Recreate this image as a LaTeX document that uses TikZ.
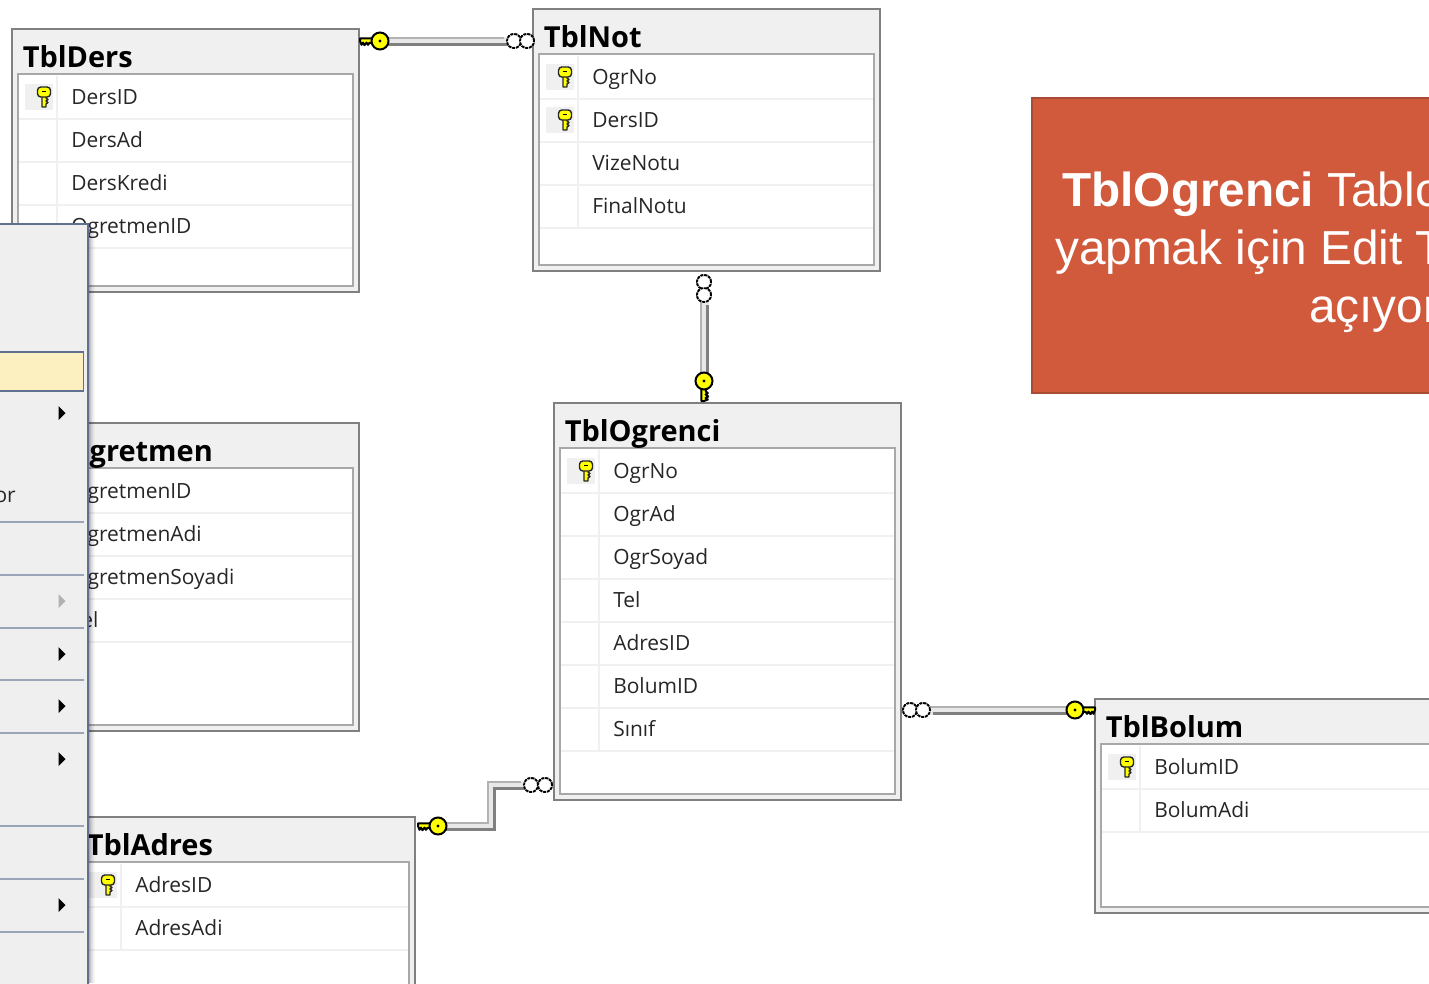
\documentclass[tikz,border=0pt]{standalone}
\usepackage{fontspec}
\setmainfont{Open Sans}
\newfontfamily\calloutfont{Liberation Sans}
\usetikzlibrary{calc}
\definecolor{frameA}{HTML}{808080}
\definecolor{frameB}{HTML}{A8A8A8}
\definecolor{headbg}{HTML}{F0F0F0}
\definecolor{gridc}{HTML}{F0F0F0}
\definecolor{keyy}{HTML}{FFFF00}
\definecolor{menubg}{HTML}{EFEFEF}
\definecolor{menuedge}{HTML}{5F7090}
\definecolor{menusep}{HTML}{9AA5B8}
\definecolor{menuhi}{HTML}{FDF0C0}
\definecolor{boxred}{HTML}{D15A3C}
\definecolor{boxedge}{HTML}{A84C33}
\def\px{0.75pt}
\tikzset{
  tblouter/.style={draw=frameA,fill=headbg,line width=2*\px,inner sep=0pt,outer sep=0pt,rectangle},
  tblinner/.style={draw=frameB,fill=white,line width=2*\px,inner sep=0pt,outer sep=0pt,rectangle},
  gridline/.style={draw=gridc,line width=1.6*\px},
  tbltitle/.style={anchor=base west,inner sep=0pt,font=\fontsize{21.7}{26}\selectfont\bfseries,text=black},
  rowtext/.style={anchor=base west,inner sep=0pt,font=\fontsize{15.7}{18}\selectfont,text=black!85},
  keyoutline/.style={draw=black,fill=keyy,line width=2*\px},
  smallkeyline/.style={draw=black!85,fill=keyy,line width=1.4*\px,line join=round},
  ringc/.style={circle,draw=black,dash pattern=on 2.2pt off 0.7pt,fill=white,line width=1.8*\px,minimum size=14*\px,inner sep=0pt,outer sep=0pt},
  connmid/.style={draw=black!9,line width=9*\px},
  connlo/.style={draw=frameA,line width=2.6*\px,transform canvas={shift={(3.2,3.2)}}},
  connhi/.style={draw=black!30,line width=2.6*\px,transform canvas={shift={(-3.2,-3.2)}}},
  menuarrow/.style={fill=black,draw=none},
  keyshape/.pic={
    \path[keyoutline,line join=round] (5,-2.6) -- (20,-2.6) -- (20,0) -- (18.5,3.8) -- (17,1.6) -- (15.5,4.2) -- (13.5,1.6) -- (12,3.8) -- (10.5,1.8) -- (5,1.8) -- cycle;
    \path[keyoutline] (0,0) circle (8.5);
    \fill[black] (0,0) circle (1.6);
  },
  smallkey/.pic={
    \path[smallkeyline] (-2,-1) -- (2,-1) -- (2,1) -- (4,2.5) -- (2,4) -- (4,5.5) -- (2,7) -- (2,10) -- (-2,10) -- cycle;
    \path[smallkeyline,rounded corners=2.5] (-6.5,-10) rectangle (6.5,0);
    \fill[black] (-2,-6.2) rectangle (2,-4.6);
  },
}
% id, left, top, right, bottom, title, key rows, rows
\newcommand{\dbtable}[8]{
  \pgfmathsetmacro\tw{#4-#2}
  \pgfmathsetmacro\th{#5-#3}
  \pgfmathsetmacro\iw{#4-#2-12}
  \pgfmathsetmacro\ih{#5-#3-51}
  \node[tblouter,minimum width=\tw*\px,minimum height=\th*\px,anchor=north west] (#1) at (#2,#3) {};
  \node[tblinner,minimum width=\iw*\px,minimum height=\ih*\px,anchor=north west] (#1-in) at (#2+6,#3+45) {};
  \node[tbltitle] (#1-title) at (#2+10.5,#3+38.5) {#6};
  \foreach \t [count=\i] in {#8} {
    \pgfmathsetmacro\ry{#3+68+43*(\i-1)}
    \pgfmathsetmacro\ly{#3+90+43*(\i-1)}
    \draw[gridline] (#2+7,\ly) -- (#4-7,\ly);
    \draw[gridline] (#2+45,\ly-43) -- (#2+45,\ly);
    \ifnum\i>#7\relax\else
      \fill[headbg] (#2+13,\ry-13) rectangle (#2+41,\ry+13);
      \pic at (#2+32,\ry) {smallkey};
    \fi
    \node[rowtext] (#1-r\i) at (#2+59,\ry+7.8) {\t};
  }
}
\newcommand{\dbconn}[1]{
  \draw[connmid] #1;
  \draw[connhi] #1;
  \draw[connlo] #1;
}
\begin{document}
\begin{tikzpicture}[x=0.75pt,y=-0.75pt]
\useasboundingbox (0,0) rectangle (1429,983);
\clip (0,0) rectangle (1429,983);
\fill[white] (0,0) rectangle (1429,983);

\dbtable{ders}{12}{29}{359}{292}{TblDers}{1}{DersID,DersAd,DersKredi,OgretmenID}
\dbtable{not}{533}{9}{880}{271}{TblNot}{2}{OgrNo,DersID,VizeNotu,FinalNotu}
\dbtable{ogretmen}{12}{423}{359}{731}{TblOgretmen}{0}{OgretmenID,OgretmenAdi,OgretmenSoyadi,Tel}
\dbtable{adres}{76}{817}{415}{1010}{TblAdres}{1}{AdresID,AdresAdi}
\dbtable{ogrenci}{554}{403}{901}{800}{TblOgrenci}{1}{OgrNo,OgrAd,OgrSoyad,Tel,AdresID,BolumID,Sınıf}
\dbtable{bolum}{1095}{699}{1450}{913}{TblBolum}{1}{BolumID,BolumAdi}

% connector ends
\coordinate (k1) at (380,41);
\coordinate (k2) at (704,381);
\coordinate (k3) at (1075,710);
\coordinate (k4) at (438,826);
\coordinate (e4a) at (491,826);
\coordinate (e4b) at (491,785);
\node[ringc] (r1b) at (514,41) {};
\node[ringc] (r1a) at (527,41) {};
\node[ringc] (r2a) at (704,282) {};
\node[ringc] (r2b) at (704,295) {};
\node[ringc] (r3a) at (910,710) {};
\node[ringc] (r3b) at (923,710) {};
\node[ringc] (r4b) at (531,785) {};
\node[ringc] (r4a) at (545,785) {};

\dbconn{(k1) -- (r1b.west)}
\dbconn{(k2) -- (r2b.south)}
\dbconn{(k3) -- (r3b.east)}
\dbconn{(k4) -- (e4a) -- (e4b) -- (r4b.west)}
\foreach \n in {r1b,r1a,r2a,r2b,r3a,r3b,r4b,r4a} \node[ringc] at (\n) {};
\pic[xscale=-1] at (k1) {keyshape};
\pic[rotate=-90,yscale=-1] at (k2) {keyshape};
\pic at (k3) {keyshape};
\pic[xscale=-1] at (k4) {keyshape};

% context menu
\foreach \sx/\so in {88/.38,89/.30,90/.22,91/.15,92/.10,93/.06,94/.03}
  \fill[black,opacity=\so] (\sx,228) rectangle (\sx+1,983);
\path[fill=menubg,draw=menuedge,line width=2*\px] (-5,224) rectangle (87.5,990);
\path[fill=menuhi,draw=menuedge,line width=1.6*\px] (-5,352) rectangle (83.5,391);
\foreach \sy in {522,575,628,680,733,826,879,932}
  \draw[draw=menusep,line width=1.5*\px] (0,\sy) -- (84,\sy);
\foreach \ay in {413,654,706,759,905}
  \fill[menuarrow] (58.5,\ay-7) -- (65.5,\ay) -- (58.5,\ay+7) -- cycle;
\fill[black!30] (58.5,594) -- (65.5,601) -- (58.5,608) -- cycle;
\node[rowtext,anchor=base east] (menuor) at (16,502) {or};

% call-out
\path[fill=boxred,draw=boxedge,line width=2*\px] (1032,98) rectangle (1445,393);
\node[anchor=base west,inner sep=0pt,text=white,font=\calloutfont\fontsize{35.8}{43}\selectfont] (c1) at (1062,206) {\textbf{TblOgrenci} Tablo};
\node[anchor=base west,inner sep=0pt,text=white,font=\calloutfont\fontsize{35.8}{43}\selectfont] (c2) at (1055,264) {yapmak için Edit T};
\node[anchor=base west,inner sep=0pt,text=white,font=\calloutfont\fontsize{35.8}{43}\selectfont] (c3) at (1309,322) {açıyor};
\end{tikzpicture}
\end{document}
